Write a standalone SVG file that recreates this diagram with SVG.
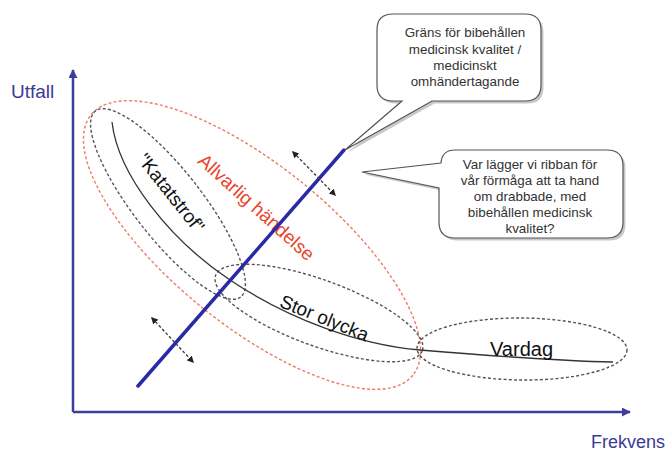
<svg xmlns="http://www.w3.org/2000/svg" width="667" height="451" viewBox="0 0 667 451">
<style>
.lbl{font-family:"Liberation Sans",Arial,sans-serif;}
.axis{stroke:#3e3e9e;stroke-width:2.5;fill:none;}
.dash{stroke:#555;stroke-width:1.4;stroke-dasharray:3 2.2;fill:none;}
.red{stroke:#f07a66;stroke-width:1.4;stroke-dasharray:3 2.2;fill:none;}
.call{fill:#fff;stroke:#555;stroke-width:1.2;}
.shadow{fill:#c8c8c8;}
.ct{font-family:"Liberation Sans",Arial,sans-serif;font-size:13.4px;fill:#333;text-anchor:middle;}
.dbl{stroke:#444;stroke-width:1.4;stroke-dasharray:3 2;fill:none;marker-start:url(#ah);marker-end:url(#ah);}
</style>
<defs>
<marker id="ah" viewBox="0 0 10 10" refX="8" refY="5" markerWidth="7" markerHeight="7" markerUnits="userSpaceOnUse" orient="auto-start-reverse">
<path d="M0,0 L10,5 L0,10 Z" fill="#222"/>
</marker>
<marker id="axh" viewBox="0 0 10 10" refX="9" refY="5" markerWidth="9" markerHeight="9" markerUnits="userSpaceOnUse" orient="auto">
<path d="M0,0 L10,5 L0,10 Z" fill="#3e3e9e"/>
</marker>
</defs>

<g id="axes">
<path class="axis" d="M73,412 V70" marker-end="url(#axh)"/>
<path class="axis" d="M73,412 H630" marker-end="url(#axh)"/>
<text class="lbl" x="11" y="98" font-size="19" fill="#3a3a96">Utfall</text>
<text class="lbl" x="665" y="448" font-size="18" fill="#3a3a96" text-anchor="end">Frekvens</text>
</g>

<g id="ellipses">
<ellipse id="allvarlig-ellipse" class="red" cx="252" cy="245" rx="207" ry="80" transform="rotate(39 252 245)"/>
<ellipse id="katastrof-ellipse" class="dash" cx="168" cy="204" rx="118" ry="34" transform="rotate(52 168 204)"/>
<ellipse id="storolycka-ellipse" class="dash" cx="319" cy="313" rx="110" ry="33" transform="rotate(20 319 313)"/>
<ellipse id="vardag-ellipse" class="dash" cx="522" cy="349" rx="105" ry="31" transform="rotate(0.5 522 349)"/>
</g>

<g id="curve">
<path d="M112,122 C118,175 170,240 230,280 C290,320 360,345 420,350 C480,355 560,361 613,362" fill="none" stroke="#333" stroke-width="1.3"/>
</g>

<g id="labels">
<text class="lbl" font-size="19" fill="#111" text-anchor="middle" transform="translate(166 197) rotate(51.5)">"Katatstrof"</text>
<text class="lbl" font-size="19" fill="#e8452c" text-anchor="middle" transform="translate(252 212) rotate(42)">Allvarlig händelse</text>
<text class="lbl" font-size="19" fill="#111" text-anchor="middle" transform="translate(322 324) rotate(22)">Stor olycka</text>
<text class="lbl" font-size="20" fill="#111" x="490" y="356">Vardag</text>
</g>

<g id="connectors">
<line x1="138" y1="386" x2="344" y2="150" stroke="#2a2aa6" stroke-width="3.5" stroke-linecap="round"/>
<line class="dbl" x1="293" y1="152" x2="335" y2="195"/>
<line class="dbl" x1="152" y1="318" x2="193" y2="362"/>
</g>

<g id="callout-grans">
<path class="shadow" transform="translate(2.5 2.5)" d="M393,14 H525 Q541,14 541,30 V85 Q541,101 525,101 H432 L345,150 L402,101 H393 Q377,101 377,85 V30 Q377,14 393,14 Z"/>
<path class="call" d="M393,14 H525 Q541,14 541,30 V85 Q541,101 525,101 H432 L345,150 L402,101 H393 Q377,101 377,85 V30 Q377,14 393,14 Z"/>
<text class="ct" x="465" y="37">Gräns för bibehållen</text>
<text class="ct" x="465" y="54">medicinsk kvalitet /</text>
<text class="ct" x="465" y="70">medicinskt</text>
<text class="ct" x="465" y="86">omhändertagande</text>
</g>

<g id="callout-ribban">
<path class="shadow" transform="translate(2.5 2.5)" d="M455,150 H607 Q623,150 623,166 V222 Q623,238 607,238 H455 Q439,238 439,222 V188 L362,172 L441,163 Q442,150 455,150 Z"/>
<path class="call" d="M455,150 H607 Q623,150 623,166 V222 Q623,238 607,238 H455 Q439,238 439,222 V188 L362,172 L441,163 Q442,150 455,150 Z"/>
<text class="ct" x="530" y="169">Var lägger vi ribban för</text>
<text class="ct" x="530" y="185">vår förmåga att ta hand</text>
<text class="ct" x="530" y="201">om drabbade, med</text>
<text class="ct" x="530" y="217">bibehållen medicinsk</text>
<text class="ct" x="530" y="233">kvalitet?</text>
</g>
</svg>
